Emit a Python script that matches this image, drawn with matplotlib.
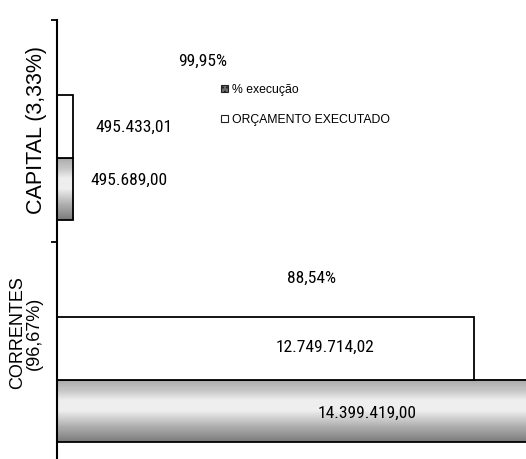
import matplotlib
matplotlib.use("Agg")
import matplotlib.pyplot as plt
import numpy as np
from matplotlib import font_manager
from matplotlib.patches import Patch

# --- data -------------------------------------------------------------
categories = ["CORRENTES\n(96,67%)", "CAPITAL (3,33%)"]
orcamento = [14399419.00, 495689.00]          # budget (gray bars)
executado = [12749714.02, 495433.01]          # executed budget (white bars)
pct_execucao = [e / o for e, o in zip(executado, orcamento)]

legend_labels = ["% execução", "ORÇAMENTO EXECUTADO"]

# --- fonts ------------------------------------------------------------
available = {f.name for f in font_manager.fontManager.ttflist}
narrow, narrow_size = "Liberation Sans", 11.0
for name in ["Liberation Sans Narrow", "DejaVu Sans Condensed",
             "Roboto Condensed", "Open Sans Condensed"]:
    if name in available:
        narrow, narrow_size = name, 12.6
        break
regular = "Liberation Sans"


def fmt_pt(v):
    s = f"{v:,.2f}"
    return s.replace(",", "X").replace(".", ",").replace("X", ".")


def fmt_pct(v):
    return f"{v * 100:.2f}%".replace(".", ",")


W, H = 526, 459
fig = plt.figure(figsize=(W / 100, H / 100), dpi=100)
fig.patch.set_facecolor("white")

# axes placed in pixel terms
left_px, right_px, top_px, bottom_px = 57, 526, 20, 464
ax = fig.add_axes([left_px / W, 1 - bottom_px / H,
                   (right_px - left_px) / W, (bottom_px - top_px) / H])

y = np.arange(len(categories))
h = 0.28
off_white = 0.02
off_gray = off_white - h
off_pct = off_white + h

# gray gradient profile (top -> bottom) for the budget bars
prof = np.concatenate([
    np.linspace(0.66, 0.76, 10),
    np.linspace(0.76, 0.93, 12),
    np.full(10, 0.93),
    np.linspace(0.93, 0.66, 18),
    np.linspace(0.66, 0.48, 14),
])
grad = prof[:, None] * np.ones((1, 4))

for yi, v in zip(y, orcamento):
    yc = yi + off_gray
    ax.imshow(grad, extent=(0, v, yc - h / 2, yc + h / 2), aspect="auto",
              cmap="gray", vmin=0, vmax=1, interpolation="bilinear", zorder=1)

ax.barh(y + off_gray, orcamento, height=h, facecolor="none",
        edgecolor="black", linewidth=1.3, zorder=2)
ax.barh(y + off_white, executado, height=h, facecolor="white",
        edgecolor="black", linewidth=1.3, zorder=2)
ax.barh(y + off_pct, pct_execucao, height=h, facecolor="#8a8a8a",
        hatch="....", edgecolor="#444444", linewidth=0, zorder=2)

ax.set_xlim(0, 14.34e6)
ax.set_ylim(-0.5, 1.5)

# value labels (x in axes fraction, y relative to category)
tr = ax.get_yaxis_transform()
exec_label_x = [0.571, 0.164]
exec_label_dy = [0.027, 0.018]
orc_label_x = [0.661, 0.154]
orc_label_dy = [-0.270, -0.221]
pct_label_x = [0.542, 0.311]
pct_label_dy = [0.338, 0.315]
label_kw = dict(transform=tr, ha="center", va="center",
                fontsize=narrow_size, family=narrow, zorder=5)
for i in range(len(categories)):
    ax.text(exec_label_x[i], y[i] + exec_label_dy[i], fmt_pt(executado[i]), **label_kw)
    ax.text(orc_label_x[i], y[i] + orc_label_dy[i], fmt_pt(orcamento[i]), **label_kw)
    ax.text(pct_label_x[i], y[i] + pct_label_dy[i], fmt_pct(pct_execucao[i]), **label_kw)

# axis styling
for s in ["top", "right", "bottom"]:
    ax.spines[s].set_visible(False)
ax.spines["left"].set_linewidth(1.5)
ax.set_xticks([])
ax.set_yticks([-0.5, 0.5, 1.5])
ax.set_yticklabels([])
ax.tick_params(axis="y", length=4, width=1.3, direction="out")

# category labels
fig.text(37 / W, 1 - 130 / H, categories[1], rotation=90, ha="center",
         va="center", fontsize=15.5, family=regular)
fig.text(26 / W, 1 - 333 / H, categories[0], rotation=90, ha="center",
         va="center", fontsize=13, family=regular, linespacing=1.0,
         multialignment="center")

# legend
handles = [Patch(facecolor="#6e6e6e", edgecolor="#222222", hatch="....", linewidth=0.8),
           Patch(facecolor="white", edgecolor="#222222", linewidth=0.8)]
ax.legend(handles, legend_labels, loc="upper left",
          bbox_to_anchor=(221 / W, 1 - 84 / H), bbox_transform=fig.transFigure,
          frameon=False, handlelength=0.55, handleheight=0.55,
          handletextpad=0.35, labelspacing=1.45, borderpad=0, borderaxespad=0,
          prop={"family": regular, "size": 8.8})

fig.savefig("out.png", dpi=100)
